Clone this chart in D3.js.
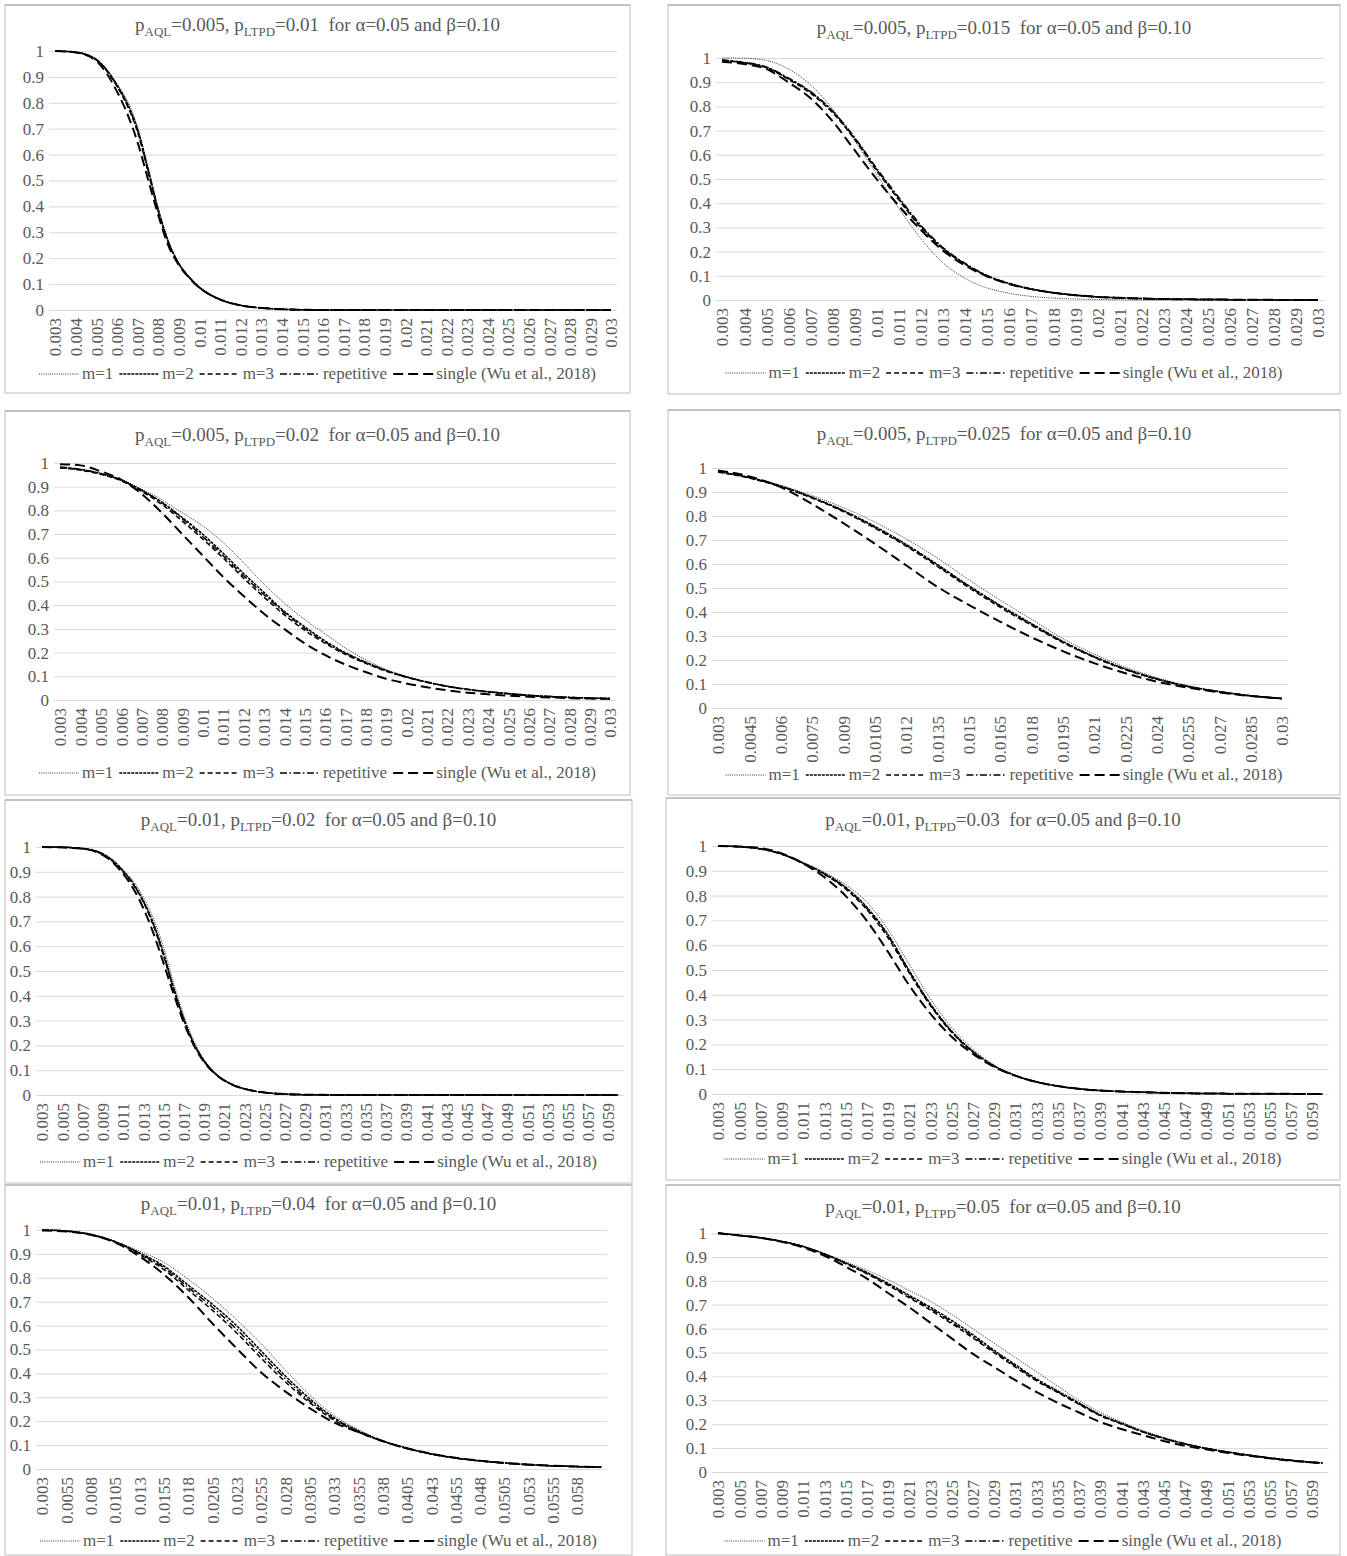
<!DOCTYPE html>
<meta charset="utf-8">
<html>
<head>
<title>OC curves</title>
<script src="https://d3js.org/d3.v7.min.js"></script>
<style>
  body { margin: 0; background: #fff; }
  svg text { font-family: "Liberation Serif", "Times New Roman", serif; fill: #595959; }
</style>
</head>
<body>
<script type="text/javascript">

// ---- tick labels ----
var yTicks = [0, 0.1, 0.2, 0.3, 0.4, 0.5, 0.6, 0.7, 0.8, 0.9, 1];
var yLabels = ["0", "0.1", "0.2", "0.3", "0.4", "0.5", "0.6", "0.7", "0.8", "0.9", "1"];

var ticksA = ["0.003","0.004","0.005","0.006","0.007","0.008","0.009","0.01","0.011","0.012","0.013","0.014","0.015","0.016","0.017","0.018","0.019","0.02","0.021","0.022","0.023","0.024","0.025","0.026","0.027","0.028","0.029","0.03"];
var ticksB = ["0.003","0.0045","0.006","0.0075","0.009","0.0105","0.012","0.0135","0.015","0.0165","0.018","0.0195","0.021","0.0225","0.024","0.0255","0.027","0.0285","0.03"];
var ticksC = ["0.003","0.005","0.007","0.009","0.011","0.013","0.015","0.017","0.019","0.021","0.023","0.025","0.027","0.029","0.031","0.033","0.035","0.037","0.039","0.041","0.043","0.045","0.047","0.049","0.051","0.053","0.055","0.057","0.059"];
var ticksD = ["0.003","0.0055","0.008","0.0105","0.013","0.0155","0.018","0.0205","0.023","0.0255","0.028","0.0305","0.033","0.0355","0.038","0.0405","0.043","0.0455","0.048","0.0505","0.053","0.0555","0.058"];

// ---- titles ----
var titleAql  = ["0.005", "0.005", "0.005", "0.005", "0.01", "0.01", "0.01", "0.01"];
var titleLtpd = ["0.01", "0.015", "0.02", "0.025", "0.02", "0.03", "0.04", "0.05"];

var seriesNames = ["m=1", "m=2", "m=3", "repetitive", "single (Wu et al., 2018)"];

// ---- panel 1: pLTPD = 0.01 ----
var p1X      = [0.003,0.004,0.005,0.0055,0.006,0.0065,0.007,0.0075,0.008,0.0085,0.009,0.0095,0.01,0.011,0.012,0.013,0.014,0.015,0.016,0.018,0.02,0.025,0.03];
var p1M1     = [1.0,0.996,0.97,0.93,0.875,0.81,0.71,0.56,0.40,0.27,0.185,0.13,0.09,0.042,0.019,0.008,0.003,0.001,0,0,0,0,0];
var p1M2     = [1.0,0.995,0.968,0.928,0.87,0.80,0.70,0.55,0.39,0.265,0.18,0.128,0.088,0.041,0.018,0.008,0.003,0.001,0,0,0,0,0];
var p1M3     = [1.0,0.995,0.966,0.925,0.865,0.79,0.69,0.54,0.385,0.26,0.18,0.127,0.088,0.041,0.018,0.008,0.003,0.001,0,0,0,0,0];
var p1Rep    = [1.0,0.995,0.967,0.927,0.868,0.795,0.695,0.545,0.39,0.262,0.18,0.128,0.088,0.041,0.018,0.008,0.003,0.001,0,0,0,0,0];
var p1Single = [1.0,0.994,0.962,0.915,0.845,0.76,0.65,0.51,0.37,0.25,0.175,0.125,0.087,0.041,0.018,0.008,0.003,0.001,0,0,0,0,0];

// ---- panel 2: pLTPD = 0.015 ----
var p2X      = [0.003,0.004,0.005,0.006,0.007,0.008,0.009,0.01,0.011,0.012,0.013,0.014,0.015,0.016,0.017,0.018,0.019,0.02,0.021,0.022,0.023,0.024,0.025,0.026,0.027,0.028,0.029,0.03];
var p2M1     = [1.0,0.999,0.99,0.955,0.89,0.79,0.66,0.52,0.38,0.255,0.155,0.09,0.05,0.028,0.015,0.008,0.004,0.002,0.001,0,0,0,0,0,0,0,0,0];
var p2M2     = [0.99,0.98,0.962,0.915,0.86,0.78,0.67,0.54,0.42,0.305,0.215,0.15,0.10,0.068,0.045,0.03,0.02,0.013,0.009,0.006,0.004,0.003,0.002,0.0015,0.001,0.0005,0,0];
var p2M3     = [0.99,0.98,0.96,0.912,0.855,0.775,0.665,0.535,0.415,0.30,0.212,0.148,0.10,0.067,0.045,0.03,0.02,0.013,0.009,0.006,0.004,0.003,0.002,0.0015,0.001,0.0005,0,0];
var p2Rep    = [0.992,0.982,0.963,0.918,0.862,0.782,0.672,0.545,0.425,0.31,0.218,0.152,0.102,0.069,0.046,0.03,0.02,0.013,0.009,0.006,0.004,0.003,0.002,0.0015,0.001,0.0005,0,0];
var p2Single = [0.985,0.975,0.955,0.90,0.835,0.74,0.62,0.50,0.39,0.29,0.205,0.143,0.098,0.066,0.045,0.03,0.02,0.013,0.009,0.006,0.004,0.003,0.002,0.0015,0.001,0.0005,0,0];

// ---- panel 3: pLTPD = 0.02 ----
var p3X      = [0.003,0.004,0.005,0.006,0.007,0.008,0.009,0.01,0.011,0.012,0.013,0.014,0.015,0.016,0.017,0.018,0.019,0.02,0.021,0.022,0.023,0.024,0.025,0.026,0.027,0.028,0.029,0.03];
var p3M1     = [0.985,0.975,0.958,0.93,0.89,0.845,0.79,0.735,0.665,0.58,0.49,0.41,0.34,0.28,0.22,0.17,0.13,0.10,0.077,0.059,0.046,0.036,0.028,0.021,0.016,0.012,0.009,0.007];
var p3M2     = [0.98,0.972,0.955,0.928,0.885,0.835,0.77,0.70,0.62,0.535,0.455,0.375,0.31,0.25,0.20,0.16,0.125,0.098,0.076,0.058,0.045,0.035,0.027,0.02,0.015,0.011,0.008,0.006];
var p3M3     = [0.98,0.97,0.952,0.925,0.88,0.825,0.755,0.68,0.60,0.515,0.435,0.36,0.295,0.24,0.193,0.155,0.122,0.096,0.075,0.057,0.044,0.034,0.026,0.019,0.014,0.01,0.007,0.005];
var p3Rep    = [0.982,0.973,0.955,0.928,0.885,0.832,0.765,0.69,0.61,0.525,0.445,0.37,0.303,0.245,0.197,0.158,0.124,0.097,0.076,0.058,0.045,0.035,0.027,0.02,0.015,0.011,0.008,0.006];
var p3Single = [0.995,0.99,0.965,0.93,0.87,0.79,0.70,0.61,0.52,0.44,0.365,0.30,0.24,0.19,0.15,0.118,0.09,0.07,0.054,0.041,0.031,0.024,0.018,0.014,0.011,0.008,0.006,0.005];

// ---- panel 4: pLTPD = 0.025 ----
var p4X      = [0.003,0.0045,0.006,0.0075,0.009,0.0105,0.012,0.0135,0.015,0.0165,0.018,0.0195,0.021,0.0225,0.024,0.0255,0.027,0.0285,0.03];
var p4M1     = [0.985,0.962,0.928,0.885,0.835,0.775,0.705,0.625,0.535,0.45,0.37,0.29,0.225,0.17,0.127,0.093,0.07,0.052,0.04];
var p4M2     = [0.985,0.96,0.925,0.878,0.823,0.757,0.682,0.598,0.51,0.428,0.352,0.278,0.215,0.163,0.122,0.09,0.068,0.051,0.04];
var p4M3     = [0.983,0.958,0.922,0.875,0.818,0.75,0.675,0.59,0.502,0.42,0.345,0.273,0.211,0.16,0.12,0.089,0.067,0.05,0.039];
var p4Rep    = [0.985,0.96,0.924,0.877,0.821,0.754,0.679,0.595,0.507,0.425,0.349,0.276,0.213,0.162,0.121,0.09,0.068,0.051,0.04];
var p4Single = [0.99,0.965,0.92,0.85,0.77,0.685,0.595,0.505,0.43,0.36,0.295,0.237,0.187,0.145,0.11,0.085,0.065,0.05,0.039];

// ---- panel 5: pAQL = 0.01, pLTPD = 0.02 ----
var p5X      = [0.003,0.005,0.007,0.009,0.01,0.011,0.012,0.013,0.014,0.015,0.016,0.017,0.018,0.019,0.02,0.021,0.022,0.023,0.024,0.025,0.026,0.027,0.028,0.03,0.032,0.04,0.05,0.06];
var p5M1     = [1,0.999,0.995,0.975,0.95,0.91,0.865,0.80,0.715,0.60,0.455,0.325,0.22,0.145,0.095,0.062,0.04,0.026,0.017,0.011,0.007,0.004,0.002,0.001,0,0,0,0];
var p5M2     = [1,0.999,0.994,0.972,0.945,0.905,0.855,0.785,0.695,0.575,0.435,0.31,0.21,0.14,0.092,0.06,0.039,0.025,0.016,0.01,0.006,0.004,0.002,0.001,0,0,0,0];
var p5M3     = [1,0.999,0.994,0.97,0.942,0.90,0.85,0.78,0.685,0.565,0.43,0.305,0.207,0.138,0.091,0.06,0.039,0.025,0.016,0.01,0.006,0.004,0.002,0.001,0,0,0,0];
var p5Rep    = [1,0.999,0.994,0.972,0.944,0.903,0.853,0.783,0.69,0.57,0.432,0.307,0.208,0.139,0.091,0.06,0.039,0.025,0.016,0.01,0.006,0.004,0.002,0.001,0,0,0,0];
var p5Single = [1,0.998,0.993,0.968,0.938,0.893,0.835,0.755,0.655,0.535,0.41,0.295,0.202,0.135,0.09,0.059,0.038,0.025,0.016,0.01,0.006,0.004,0.002,0.001,0,0,0,0];

// ---- panel 6: pLTPD = 0.03 ----
var p6X      = [0.003,0.005,0.007,0.009,0.011,0.013,0.015,0.017,0.019,0.021,0.023,0.025,0.027,0.029,0.031,0.033,0.035,0.037,0.039,0.041,0.043,0.045,0.047,0.049,0.051,0.053,0.055,0.057,0.059,0.06];
var p6M1     = [1,0.998,0.99,0.97,0.935,0.895,0.845,0.775,0.665,0.525,0.385,0.27,0.182,0.118,0.077,0.05,0.033,0.022,0.015,0.01,0.007,0.005,0.003,0.002,0.0015,0.001,0.001,0.0005,0,0];
var p6M2     = [1,0.997,0.988,0.968,0.932,0.89,0.835,0.755,0.645,0.50,0.365,0.255,0.173,0.114,0.075,0.049,0.032,0.021,0.014,0.01,0.007,0.005,0.003,0.002,0.0015,0.001,0.001,0.0005,0,0];
var p6M3     = [1,0.997,0.988,0.967,0.93,0.886,0.828,0.745,0.632,0.49,0.358,0.25,0.17,0.112,0.074,0.048,0.032,0.021,0.014,0.01,0.007,0.005,0.003,0.002,0.0015,0.001,0.001,0.0005,0,0];
var p6Rep    = [1,0.997,0.988,0.968,0.931,0.888,0.832,0.75,0.64,0.495,0.362,0.253,0.172,0.113,0.075,0.049,0.032,0.021,0.014,0.01,0.007,0.005,0.003,0.002,0.0015,0.001,0.001,0.0005,0,0];
var p6Single = [1,0.998,0.992,0.97,0.93,0.875,0.80,0.70,0.575,0.44,0.325,0.232,0.163,0.11,0.074,0.049,0.032,0.021,0.014,0.01,0.007,0.005,0.003,0.002,0.0015,0.001,0.001,0.0005,0,0];

// ---- panel 7: pLTPD = 0.04 ----
var p7X      = [0.003,0.0055,0.008,0.0105,0.013,0.0155,0.018,0.0205,0.023,0.0255,0.028,0.0305,0.033,0.0355,0.038,0.0405,0.043,0.0455,0.048,0.0505,0.053,0.0555,0.058,0.0605];
var p7M1     = [1,0.996,0.982,0.952,0.912,0.865,0.795,0.715,0.625,0.525,0.415,0.31,0.225,0.165,0.12,0.088,0.064,0.047,0.035,0.026,0.019,0.014,0.01,0.008];
var p7M2     = [1,0.996,0.982,0.952,0.905,0.85,0.77,0.69,0.60,0.495,0.39,0.295,0.215,0.16,0.118,0.087,0.063,0.046,0.034,0.025,0.018,0.013,0.01,0.007];
var p7M3     = [1,0.995,0.98,0.95,0.898,0.835,0.75,0.665,0.57,0.465,0.365,0.278,0.205,0.155,0.116,0.086,0.063,0.046,0.034,0.025,0.018,0.013,0.01,0.007];
var p7Rep    = [1,0.996,0.981,0.951,0.902,0.843,0.76,0.678,0.585,0.48,0.378,0.285,0.21,0.157,0.117,0.086,0.063,0.046,0.034,0.025,0.018,0.013,0.01,0.007];
var p7Single = [0.998,0.994,0.98,0.948,0.89,0.815,0.72,0.61,0.505,0.405,0.325,0.255,0.195,0.155,0.117,0.087,0.064,0.047,0.035,0.026,0.019,0.014,0.01,0.008];

// ---- panel 8: pLTPD = 0.05 ----
var p8X      = [0.003,0.005,0.007,0.009,0.011,0.013,0.015,0.017,0.019,0.021,0.023,0.025,0.027,0.029,0.031,0.033,0.035,0.037,0.039,0.041,0.043,0.045,0.047,0.049,0.051,0.053,0.055,0.057,0.059,0.06];
var p8M1     = [1,0.99,0.98,0.965,0.945,0.915,0.88,0.845,0.805,0.76,0.715,0.66,0.60,0.54,0.48,0.42,0.36,0.30,0.25,0.21,0.175,0.145,0.12,0.10,0.085,0.072,0.06,0.05,0.042,0.039];
var p8M2     = [1,0.99,0.98,0.965,0.944,0.913,0.876,0.836,0.79,0.74,0.69,0.635,0.575,0.51,0.45,0.39,0.34,0.29,0.24,0.205,0.17,0.142,0.118,0.099,0.084,0.071,0.059,0.049,0.041,0.038];
var p8M3     = [1,0.99,0.98,0.964,0.943,0.911,0.872,0.83,0.782,0.73,0.678,0.622,0.562,0.50,0.44,0.382,0.333,0.284,0.236,0.202,0.168,0.14,0.117,0.098,0.083,0.07,0.058,0.048,0.04,0.037];
var p8Rep    = [1,0.99,0.98,0.965,0.944,0.912,0.874,0.833,0.786,0.735,0.684,0.628,0.568,0.505,0.445,0.386,0.336,0.287,0.238,0.203,0.169,0.141,0.118,0.099,0.084,0.071,0.059,0.049,0.041,0.038];
var p8Single = [0.998,0.99,0.98,0.963,0.94,0.905,0.86,0.81,0.75,0.69,0.625,0.56,0.495,0.44,0.385,0.335,0.29,0.25,0.21,0.18,0.155,0.13,0.11,0.095,0.08,0.068,0.057,0.047,0.04,0.037];

// line style per series (m=1, m=2, m=3, repetitive, single)
var styles = [
  { dash: "1,1.2",         width: 1,   color: "#333" },
  { dash: "3,1",           width: 1.5, color: "#000" },
  { dash: "5,3",           width: 1.5, color: "#000" },
  { dash: "7,2.5,1.5,2.5", width: 1.5, color: "#000" },
  { dash: "10,5",          width: 2,   color: "#000" }
];

// panel layout (box = x, y, w, h; plot = y of 1, y of 0, x of first/last tick)
var layout = [
  { box: [5, 5, 625, 388],     titleY: 31,   top: 51,   bottom: 310,  xl: 55,  xr: 611,  legendY: 379 },
  { box: [668, 5, 672, 389],   titleY: 34,   top: 58,   bottom: 300,  xl: 722, xr: 1318, legendY: 378 },
  { box: [5, 411, 625, 384],   titleY: 441,  top: 463,  bottom: 700,  xl: 60,  xr: 610,  legendY: 778 },
  { box: [668, 410, 672, 385], titleY: 440,  top: 468,  bottom: 708,  xl: 718, xr: 1282, legendY: 780 },
  { box: [5, 800, 627, 383],   titleY: 826,  top: 847,  bottom: 1095, xl: 42,  xr: 608,  legendY: 1167 },
  { box: [666, 798, 674, 382], titleY: 826,  top: 846,  bottom: 1094, xl: 718, xr: 1312, legendY: 1164 },
  { box: [5, 1185, 627, 370],  titleY: 1210, top: 1230, bottom: 1469, xl: 42,  xr: 577,  legendY: 1546 },
  { box: [666, 1185, 674, 370],titleY: 1213, top: 1233, bottom: 1472, xl: 718, xr: 1312, legendY: 1546 }
];

// build panel table from the arrays above
var panels = [
  { ticks: ticksA, x: p1X, ys: [p1M1, p1M2, p1M3, p1Rep, p1Single] },
  { ticks: ticksA, x: p2X, ys: [p2M1, p2M2, p2M3, p2Rep, p2Single] },
  { ticks: ticksA, x: p3X, ys: [p3M1, p3M2, p3M3, p3Rep, p3Single] },
  { ticks: ticksB, x: p4X, ys: [p4M1, p4M2, p4M3, p4Rep, p4Single] },
  { ticks: ticksC, x: p5X, ys: [p5M1, p5M2, p5M3, p5Rep, p5Single] },
  { ticks: ticksC, x: p6X, ys: [p6M1, p6M2, p6M3, p6Rep, p6Single] },
  { ticks: ticksD, x: p7X, ys: [p7M1, p7M2, p7M3, p7Rep, p7Single] },
  { ticks: ticksC, x: p8X, ys: [p8M1, p8M2, p8M3, p8Rep, p8Single] }
];

var svg = d3.select("body").append("svg")
  .attr("width", 1347)
  .attr("height", 1556);

svg.append("rect").attr("width", 1347).attr("height", 1556).attr("fill", "#fff");

panels.forEach(function(p, i) {
  var L = layout[i];
  var g = svg.append("g");
  var tickNums = p.ticks.map(Number);

  // frame (top edge a little darker)
  g.append("rect")
    .attr("x", L.box[0]).attr("y", L.box[1])
    .attr("width", L.box[2]).attr("height", L.box[3])
    .attr("fill", "#fff")
    .attr("stroke", "#d4d4d4")
    .attr("stroke-width", 1.5);
  g.append("line")
    .attr("x1", L.box[0]).attr("x2", L.box[0] + L.box[2])
    .attr("y1", L.box[1]).attr("y2", L.box[1])
    .attr("stroke", "#a6a6a6").attr("stroke-width", 1.2);

  var x = d3.scaleLinear()
    .domain([tickNums[0], tickNums[tickNums.length - 1]])
    .range([L.xl, L.xr]);
  var y = d3.scaleLinear().domain([0, 1]).range([L.bottom, L.top]);

  var gx0 = L.xl - 6;
  var gx1 = Math.max(L.xr, x(d3.max(p.x))) + 6;

  // horizontal gridlines + y labels
  var yAxis = d3.axisLeft(y)
    .tickValues(yTicks)
    .tickFormat(function(d, k) { return yLabels[k]; })
    .tickSize(-(gx1 - gx0))
    .tickPadding(5);
  var ya = g.append("g")
    .attr("transform", "translate(" + gx0 + ",0)")
    .call(yAxis);
  ya.select(".domain").remove();
  ya.selectAll(".tick line").attr("stroke", "#d9d9d9").attr("stroke-width", 1);
  ya.selectAll(".tick text").style("font-size", "17px");

  // x axis with rotated category labels
  var xAxis = d3.axisBottom(x)
    .tickValues(tickNums)
    .tickFormat(function(d, k) { return p.ticks[k]; })
    .tickSize(0);
  var xa = g.append("g")
    .attr("transform", "translate(0," + L.bottom + ")")
    .call(xAxis);
  xa.select(".domain").remove();
  xa.selectAll(".tick text")
    .style("font-size", "17px")
    .attr("text-anchor", "end")
    .attr("transform", "rotate(-90)")
    .attr("x", -8)
    .attr("y", 0)
    .attr("dy", "0.35em");

  // curves
  p.ys.forEach(function(vals, s) {
    var pts = p.x.map(function(xv, k) { return [xv, vals[k]]; });
    var line = d3.line()
      .x(function(d) { return x(d[0]); })
      .y(function(d) { return y(d[1]); })
      .curve(d3.curveMonotoneX);
    g.append("path")
      .datum(pts)
      .attr("d", line)
      .attr("fill", "none")
      .attr("stroke", styles[s].color)
      .attr("stroke-width", styles[s].width)
      .attr("stroke-dasharray", styles[s].dash);
  });

  // title with subscripts
  var cx = L.box[0] + L.box[2] / 2;
  var title = g.append("text")
    .attr("x", cx).attr("y", L.titleY)
    .attr("text-anchor", "middle")
    .style("font-size", "19px");
  title.append("tspan").text("p");
  title.append("tspan").attr("dy", 5).style("font-size", "13px").text("AQL");
  title.append("tspan").attr("dy", -5).text("=" + titleAql[i] + ", p");
  title.append("tspan").attr("dy", 5).style("font-size", "13px").text("LTPD");
  title.append("tspan").attr("dy", -5).text("=" + titleLtpd[i] + "\u00a0 for \u03b1=0.05 and \u03b2=0.10");

  // legend
  var leg = g.append("g");
  var sampleW = 40, gap1 = 3, gap2 = 6;
  var pos = 0;
  seriesNames.forEach(function(name, s) {
    leg.append("line")
      .attr("x1", pos).attr("x2", pos + sampleW)
      .attr("y1", -5).attr("y2", -5)
      .attr("stroke", styles[s].color)
      .attr("stroke-width", styles[s].width)
      .attr("stroke-dasharray", styles[s].dash);
    pos += sampleW + gap1;
    var t = leg.append("text")
      .attr("x", pos).attr("y", 0)
      .style("font-size", "17px")
      .text(name);
    pos += t.node().getComputedTextLength() + gap2;
  });
  pos -= gap2;
  leg.attr("transform", "translate(" + (cx - pos / 2) + "," + L.legendY + ")");
});

</script>
</body>
</html>
